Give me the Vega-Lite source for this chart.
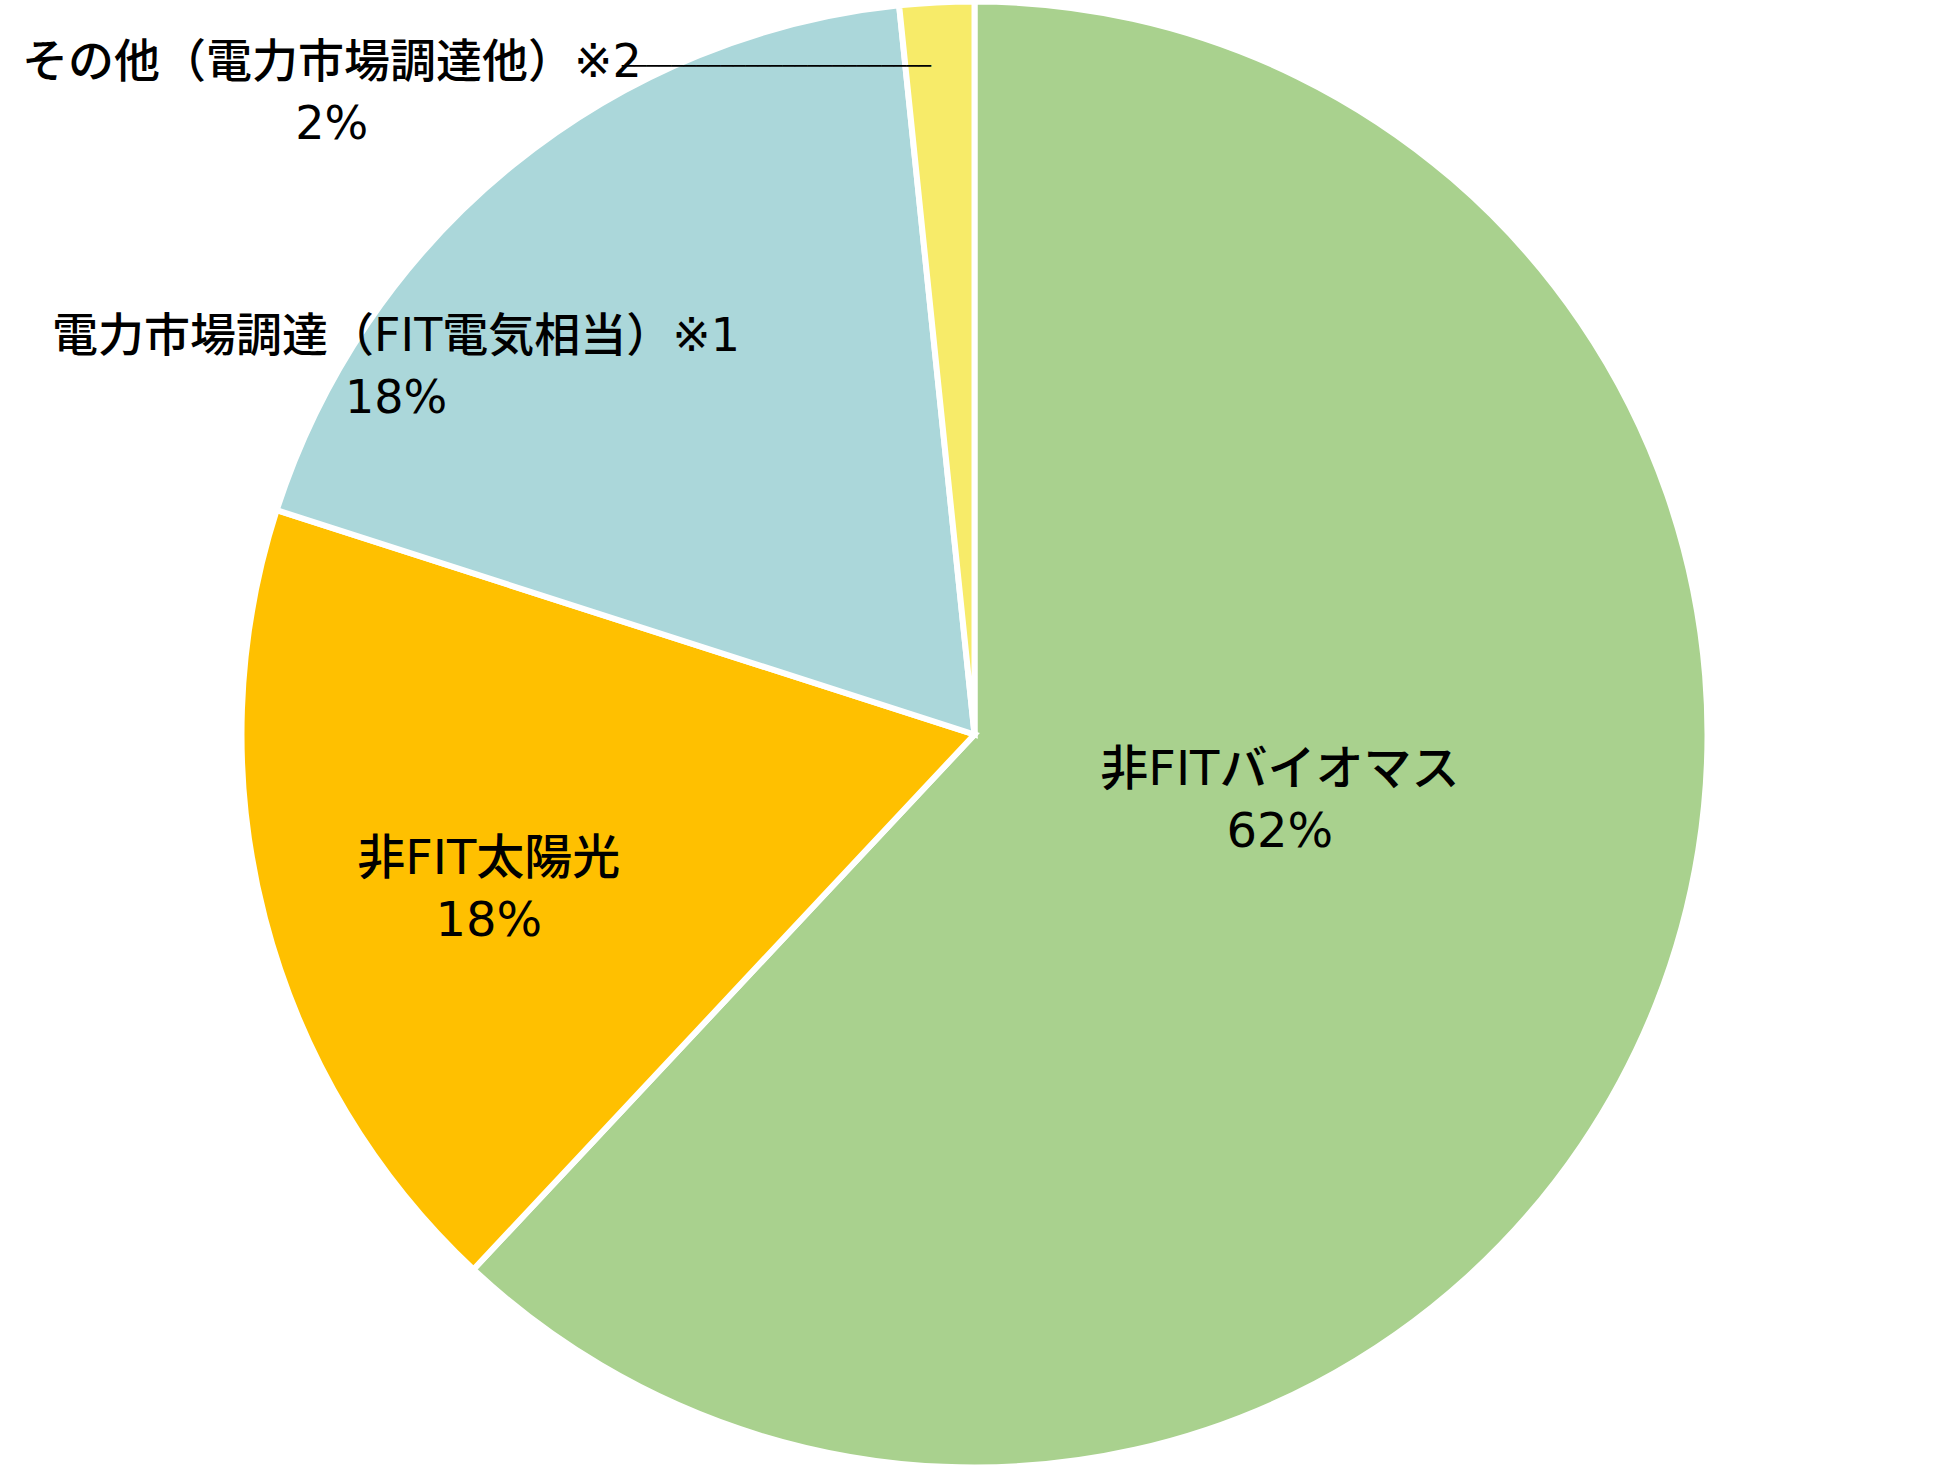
{
  "$schema": "https://vega.github.io/schema/vega-lite/v6.json",
  "width": 1949,
  "height": 1469,
  "autosize": "none",
  "padding": 0,
  "background": "white",
  "config": {"view": {"stroke": null}},
  "data": {
    "values": [
      {"category": "非FITバイオマス", "pct": "62%", "value": 61.98, "rank": 1},
      {"category": "非FIT太陽光", "pct": "18%", "value": 17.97, "rank": 2},
      {"category": "電力市場調達（FIT電気相当）※1", "pct": "18%", "value": 18.41, "rank": 3},
      {"category": "その他（電力市場調達他）※2", "pct": "2%", "value": 1.64, "rank": 4}
    ]
  },
  "transform": [{"calculate": "[datum.category, datum.pct]", "as": "lbl"}],
  "encoding": {
    "theta": {"field": "value", "type": "quantitative", "stack": true},
    "order": {"field": "rank", "type": "quantitative"}
  },
  "layer": [
    {
      "mark": {"type": "arc", "outerRadius": 733, "stroke": "white", "strokeWidth": 6},
      "encoding": {
        "color": {
          "field": "category",
          "type": "nominal",
          "scale": {
            "domain": ["非FITバイオマス", "非FIT太陽光", "電力市場調達（FIT電気相当）※1", "その他（電力市場調達他）※2"],
            "range": ["#A9D18E", "#FFC000", "#ABD7DA", "#F7EB69"]
          },
          "legend": null
        }
      }
    },
    {
      "mark": {"type": "text", "radius": 309, "dx": 18, "dy": -77, "align": "center", "baseline": "middle", "font": "DejaVu Sans, Noto Sans CJK JP", "fontSize": 48, "fontWeight": 500, "lineHeight": 62, "color": "black"},
      "encoding": {"text": {"condition": {"test": "datum.rank == 1", "field": "lbl"}, "value": ""}}
    },
    {
      "mark": {"type": "text", "radius": 509, "dx": 7, "dy": -2, "align": "center", "baseline": "middle", "font": "DejaVu Sans, Noto Sans CJK JP", "fontSize": 48, "fontWeight": 500, "lineHeight": 62, "color": "black"},
      "encoding": {"text": {"condition": {"test": "datum.rank == 2", "field": "lbl"}, "value": ""}}
    },
    {
      "mark": {"type": "text", "radius": 650, "dx": -169, "dy": 107, "align": "center", "baseline": "middle", "font": "DejaVu Sans, Noto Sans CJK JP", "fontSize": 46, "fontWeight": 500, "lineHeight": 62, "color": "black"},
      "encoding": {"text": {"condition": {"test": "datum.rank == 3", "field": "lbl"}, "value": ""}}
    },
    {
      "mark": {"type": "text", "radius": 674, "dx": -608, "dy": 2, "align": "center", "baseline": "middle", "font": "DejaVu Sans, Noto Sans CJK JP", "fontSize": 46, "fontWeight": 500, "lineHeight": 62, "color": "black"},
      "encoding": {"text": {"condition": {"test": "datum.rank == 4", "field": "lbl"}, "value": ""}}
    },
    {
      "mark": {"type": "text", "radius": 671, "dx": -9, "dy": 3, "align": "right", "baseline": "middle", "font": "DejaVu Sans Mono", "fontSize": 20.56, "color": "black"},
      "encoding": {"text": {"condition": {"test": "datum.rank == 4", "value": "─────────────────────────"}, "value": ""}}
    }
  ]
}
